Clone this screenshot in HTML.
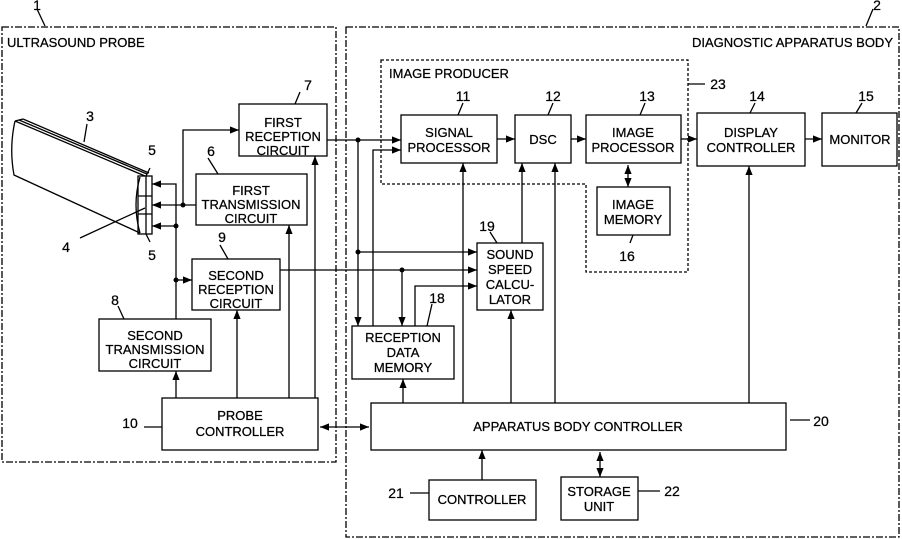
<!DOCTYPE html>
<html><head><meta charset="utf-8"><style>
html,body{margin:0;padding:0;background:#fff}
svg{display:block}
text{font-family:"Liberation Sans",Arial,sans-serif;font-size:13px;fill:#000;stroke:#000;stroke-width:0.25}
.n{font-size:14px}
</style></head><body>
<svg width="902" height="539" viewBox="0 0 902 539" xmlns="http://www.w3.org/2000/svg">
<defs>
<marker id="a" viewBox="0 0 10 10" refX="10" refY="5" markerWidth="7" markerHeight="7" orient="auto-start-reverse"><path d="M0,1 L10,5 L0,9z" fill="#000"/></marker>
</defs>
<g fill="none" stroke="#000" stroke-width="1.3">
<rect x="2" y="27" width="334" height="435" stroke-dasharray="7,2,2,2"/>
<rect x="346" y="27" width="553" height="510" stroke-dasharray="7,2,2,2"/>
<path d="M381,60 H688 V272 H586 V184 H381 Z" stroke-dasharray="3,2"/>
<!-- boxes -->
<rect x="239" y="104" width="88" height="52"/>
<rect x="196" y="174" width="111" height="51"/>
<rect x="192" y="259" width="88" height="51"/>
<rect x="99" y="319" width="112" height="52"/>
<rect x="162" y="398" width="156" height="52"/>
<rect x="401" y="115" width="96" height="48"/>
<rect x="515" y="115" width="56" height="48"/>
<rect x="586" y="115" width="95" height="48"/>
<rect x="597" y="187" width="73" height="48"/>
<rect x="477" y="243" width="66" height="67"/>
<rect x="352" y="326" width="102" height="53"/>
<rect x="697" y="113" width="108" height="53"/>
<rect x="822" y="113" width="75" height="53"/>
<rect x="371" y="403" width="415" height="47"/>
<rect x="429" y="480" width="107" height="40"/>
<rect x="561" y="477" width="77" height="43"/>
<!-- probe -->
<path d="M15,121 L145,176 M19,120 L147,174 M23,119 L149,173"/>
<path d="M15,121 Q9,148 14,175 L140,233"/>
<path d="M15,121 L23,119"/>
<path d="M140,177 Q132,205 140,233"/>
<rect x="138" y="176" width="14" height="58"/>
<path d="M138,196 H152 M138,214 H152 M146,176 V234"/>
<!-- probe wiring -->
<path d="M183,205 V130 H239" marker-end="url(#a)"/>
<path d="M196,205 H152" marker-end="url(#a)"/>
<path d="M176,319 V184 H152" marker-end="url(#a)"/>
<path d="M176,226 H152" marker-end="url(#a)"/>
<path d="M176,280 H192" marker-end="url(#a)"/>
<path d="M176,398 V371" marker-end="url(#a)"/>
<path d="M237,398 V310" marker-end="url(#a)"/>
<path d="M289,398 V225" marker-end="url(#a)"/>
<path d="M315,398 V156" marker-end="url(#a)"/>
<path d="M320,427 H369" marker-start="url(#a)" marker-end="url(#a)"/>
<!-- body wiring -->
<path d="M327,140 H401" marker-end="url(#a)"/>
<path d="M358,140 V326" marker-end="url(#a)"/>
<path d="M358,252 H477" marker-end="url(#a)"/>
<path d="M373,326 V150 H401" marker-end="url(#a)"/>
<path d="M280,270 H477" marker-end="url(#a)"/>
<path d="M402,270 V326" marker-end="url(#a)"/>
<path d="M415,326 V286 H477" marker-end="url(#a)"/>
<path d="M522,243 V163" marker-end="url(#a)"/>
<path d="M497,139 H515" marker-end="url(#a)"/>
<path d="M571,139 H586" marker-end="url(#a)"/>
<path d="M681,139 H697" marker-end="url(#a)"/>
<path d="M805,139 H822" marker-end="url(#a)"/>
<path d="M628,165 V187" marker-start="url(#a)" marker-end="url(#a)"/>
<path d="M403,403 V379" marker-end="url(#a)"/>
<path d="M463,403 V163" marker-end="url(#a)"/>
<path d="M511,403 V310" marker-end="url(#a)"/>
<path d="M555,403 V163" marker-end="url(#a)"/>
<path d="M749,403 V166" marker-end="url(#a)"/>
<path d="M482,480 V450" marker-end="url(#a)"/>
<path d="M600,477 V452" marker-start="url(#a)" marker-end="url(#a)"/>
<!-- leaders -->
<path d="M37,9 L45,26 M873,9 L866,26 M300,92 L295,104 M208,158 L218,174 M220,245 L228,259 M118,306 L124,319 M144,427 L162,427 M463,103 L458,115 M553,103 L548,115 M645,103 L640,115 M755,103 L750,113 M862,103 L856,113 M630,243 L633,235 M432,304 L427,326 M490,232 L497,243 M790,420 L810,420 M410,493 L429,493 M638,491 L660,491 M688,84 L705,84 M150,168 L146,176 M150,242 L146,234 M80,238 L145,208 M87,124 L84,142"/>
</g>
<g fill="#000">
<circle cx="183" cy="205" r="2.5"/><circle cx="176" cy="226" r="2.5"/><circle cx="176" cy="280" r="2.5"/>
<circle cx="358" cy="140" r="2.5"/><circle cx="358" cy="252" r="2.5"/><circle cx="402" cy="270" r="2.5"/>
</g>
<g text-anchor="middle">
<text x="283" y="127">FIRST</text><text x="283" y="141">RECEPTION</text><text x="283" y="155">CIRCUIT</text>
<text x="251" y="195">FIRST</text><text x="251" y="209">TRANSMISSION</text><text x="251" y="223">CIRCUIT</text>
<text x="236" y="280">SECOND</text><text x="236" y="294">RECEPTION</text><text x="236" y="308">CIRCUIT</text>
<text x="155" y="340">SECOND</text><text x="155" y="354">TRANSMISSION</text><text x="155" y="368">CIRCUIT</text>
<text x="240" y="420">PROBE</text><text x="240" y="436">CONTROLLER</text>
<text x="449" y="137">SIGNAL</text><text x="449" y="152">PROCESSOR</text>
<text x="543" y="144">DSC</text>
<text x="633" y="137">IMAGE</text><text x="633" y="152">PROCESSOR</text>
<text x="633" y="209">IMAGE</text><text x="633" y="224">MEMORY</text>
<text x="510" y="259">SOUND</text><text x="510" y="274">SPEED</text><text x="510" y="289">CALCU-</text><text x="510" y="304">LATOR</text>
<text x="403" y="342">RECEPTION</text><text x="403" y="357">DATA</text><text x="403" y="372">MEMORY</text>
<text x="751" y="137">DISPLAY</text><text x="751" y="152">CONTROLLER</text>
<text x="860" y="144">MONITOR</text>
<text x="578" y="431">APPARATUS BODY CONTROLLER</text>
<text x="482" y="504">CONTROLLER</text>
<text x="599" y="496">STORAGE</text><text x="599" y="511">UNIT</text>
</g>
<text x="7" y="47">ULTRASOUND PROBE</text>
<text x="893" y="47" text-anchor="end">DIAGNOSTIC APPARATUS BODY</text>
<text x="389" y="78">IMAGE PRODUCER</text>
<g text-anchor="middle">
<text class="n" x="37" y="10">1</text><text class="n" x="877" y="10">2</text>
<text class="n" x="90" y="121">3</text><text class="n" x="152" y="155">5</text><text class="n" x="152" y="260">5</text>
<text class="n" x="66" y="252">4</text><text class="n" x="211" y="156">6</text><text class="n" x="308" y="90">7</text>
<text class="n" x="222" y="242">9</text><text class="n" x="115" y="305">8</text><text class="n" x="130" y="428">10</text>
<text class="n" x="463" y="101">11</text><text class="n" x="553" y="101">12</text><text class="n" x="647" y="101">13</text>
<text class="n" x="757" y="101">14</text><text class="n" x="866" y="101">15</text><text class="n" x="627" y="261">16</text>
<text class="n" x="437" y="303">18</text><text class="n" x="487" y="231">19</text><text class="n" x="821" y="426">20</text>
<text class="n" x="396" y="498">21</text><text class="n" x="672" y="496">22</text><text class="n" x="718" y="89">23</text>
</g>
</svg>
</body></html>
